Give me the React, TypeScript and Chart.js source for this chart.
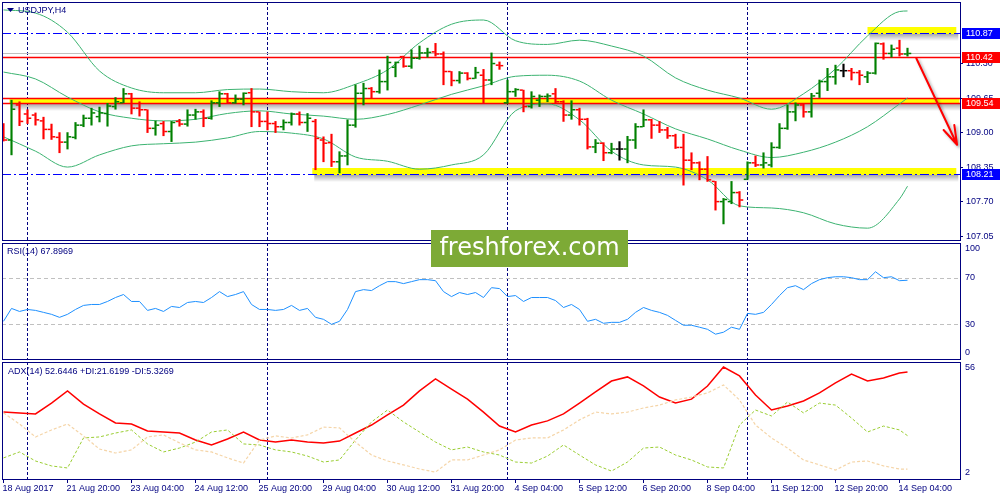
import React, { useEffect, useRef } from "react";
import { Chart, registerables } from "chart.js";

Chart.register(...registerables);

// ---------------- data ----------------
const barOpen = [109.13,108.85,109.51,109.34,109.32,109.21,109.05,108.90,108.81,108.90,
109.13,109.26,109.29,109.35,109.48,109.55,109.72,109.45,109.42,109.07,
109.16,109.01,109.20,109.15,109.32,109.38,109.26,109.55,109.72,109.55,
109.62,109.74,109.38,109.20,109.16,109.10,109.18,109.34,109.18,109.20,
108.85,108.80,108.44,108.55,109.13,109.73,109.82,109.76,109.95,110.22,
110.42,110.24,110.39,110.49,110.51,110.47,110.14,109.97,110.11,110.01,
110.07,109.98,110.26,109.55,109.76,109.79,109.48,109.60,109.67,109.72,
109.57,109.32,109.42,109.24,108.72,108.79,108.61,108.68,108.68,108.85,
109.10,109.23,109.13,109.04,108.93,108.71,108.47,108.42,108.30,108.07,
107.69,107.69,107.86,108.11,108.42,108.38,108.38,108.71,109.07,109.38,
109.51,109.38,109.73,109.95,110.04,110.155,110.155,110.12,110.04,110.11,
110.66,110.48,110.58,110.47];

const barHigh = [109.16,109.60,109.57,109.42,109.36,109.28,109.15,108.99,108.99,109.18,
109.32,109.45,109.47,109.54,109.65,109.82,109.73,109.57,109.42,109.21,
109.20,109.20,109.24,109.42,109.43,109.42,109.59,109.76,109.73,109.70,
109.74,109.82,109.38,109.38,109.20,109.23,109.36,109.38,109.35,109.24,
108.91,108.96,108.63,109.23,109.89,109.92,109.84,110.17,110.43,110.32,
110.43,110.55,110.62,110.58,110.67,110.51,110.14,110.14,110.12,110.22,
110.18,110.49,110.32,109.98,109.82,109.79,109.76,109.70,109.72,109.82,
109.59,109.59,109.45,109.26,108.86,108.80,108.79,108.82,108.92,109.16,
109.42,109.24,109.20,109.09,108.96,108.96,108.61,108.44,108.54,108.07,
107.75,108.07,107.88,108.44,108.55,108.61,108.80,109.16,109.51,109.55,
109.53,109.73,109.98,110.20,110.26,110.28,110.20,110.16,110.14,110.68,
110.68,110.64,110.73,110.58];

const barLow = [108.83,108.57,109.12,109.16,109.13,108.87,108.86,108.61,108.68,108.87,
109.10,109.13,109.19,109.11,109.43,109.55,109.34,109.30,108.99,108.94,
108.93,108.82,109.11,109.11,109.24,109.10,109.24,109.48,109.54,109.54,
109.51,109.10,109.10,109.04,108.99,109.04,109.13,109.13,109.01,108.29,
108.44,108.35,108.23,108.38,109.09,109.51,109.64,109.73,109.79,110.04,
110.22,110.20,110.37,110.41,110.43,109.89,109.87,109.92,109.98,110.01,
109.54,109.89,110.18,109.54,109.67,109.38,109.45,109.48,109.57,109.54,
109.20,109.24,109.13,108.68,108.61,108.46,108.59,108.47,108.42,108.69,
109.10,108.88,108.99,108.88,108.69,108.00,108.29,108.10,108.07,107.53,
107.27,107.65,107.59,108.11,108.35,108.32,108.34,108.69,109.05,109.21,
109.28,109.28,109.65,109.78,109.90,110.04,109.98,109.89,109.93,110.09,
110.37,110.41,110.43,110.43];

const barClose = [108.85,109.43,109.20,109.26,109.23,109.05,108.91,108.81,108.91,109.13,
109.26,109.36,109.36,109.49,109.57,109.72,109.45,109.42,109.07,109.13,
109.01,109.18,109.15,109.32,109.38,109.26,109.55,109.72,109.55,109.62,
109.73,109.38,109.20,109.16,109.10,109.18,109.34,109.18,109.26,108.88,
108.79,108.44,108.55,109.13,109.73,109.82,109.76,109.95,110.31,110.31,
110.24,110.39,110.49,110.50,110.47,110.14,109.97,110.11,110.01,110.12,
109.98,110.29,110.25,109.76,109.80,109.48,109.67,109.67,109.68,109.57,
109.32,109.42,109.24,108.72,108.79,108.61,108.68,108.68,108.85,109.10,
109.23,109.13,109.04,108.93,108.71,108.47,108.42,108.30,108.10,107.69,
107.73,107.86,107.72,108.42,108.38,108.42,108.71,109.07,109.38,109.51,
109.38,109.68,109.95,110.04,110.17,110.155,110.12,110.07,110.11,110.67,
110.48,110.56,110.47,110.48];

const timeTickBars = [0, 8, 16, 24, 32, 40, 48, 56, 64, 72, 80, 88, 96, 104, 112];
const timeTickLabels = ["18 Aug 2017", "21 Aug 20:00", "23 Aug 04:00", "24 Aug 12:00", "25 Aug 20:00",
  "29 Aug 04:00", "30 Aug 12:00", "31 Aug 20:00", "4 Sep 04:00", "5 Sep 12:00", "6 Sep 20:00",
  "8 Sep 04:00", "11 Sep 12:00", "12 Sep 20:00", "14 Sep 04:00"];
const weekStartBars = [3, 33, 63, 93];

const bbBars = [0,4,8,12,16,20,24,28,32,36,40,44,48,52,56,60,64,68,72,76,80,84,88,92,96,100,104,108,112,113];
const bbUpper = [111.30,111.24,110.88,110.15,109.83,109.74,109.74,109.80,109.81,109.76,109.74,109.90,110.17,110.68,111.03,111.11,110.72,110.65,110.73,110.62,110.43,110.02,109.79,109.64,109.43,109.72,110.19,110.81,111.27,111.28];
const bbMiddle = [110.13,110.00,109.66,109.38,109.26,109.21,109.24,109.35,109.40,109.34,109.30,109.24,109.33,109.51,109.71,109.87,110.05,110.07,109.96,109.60,109.34,109.06,108.87,108.66,108.52,108.62,108.81,109.10,109.53,109.64];
const bbLower = [108.91,108.64,108.34,108.57,108.74,108.78,108.81,108.89,109.01,108.98,108.87,108.53,108.45,108.30,108.38,108.57,109.40,109.53,109.23,108.64,108.38,108.34,108.10,107.61,107.57,107.48,107.27,107.19,107.74,107.98];

const rsiValues = [32.5,43.6,41.0,42.7,41.9,40.2,38.5,35.9,38.5,42.7,
46.2,47.0,47.0,49.6,53.0,55.6,49.6,49.6,41.9,43.6,
41.0,45.3,44.4,48.7,49.6,48.7,53.0,58.1,53.8,55.6,
58.1,47.0,42.7,42.7,41.9,42.7,46.2,41.9,43.6,35.9,
34.2,29.9,32.5,42.7,58.1,59.8,59.0,63.2,66.7,66.7,
65.0,66.7,68.4,68.4,67.5,58.1,53.8,57.3,55.6,57.3,
53.0,61.5,60.7,53.8,54.7,49.6,53.0,53.0,53.0,50.4,
44.4,47.0,42.7,32.5,34.2,30.8,31.6,31.6,34.2,40.2,
44.4,41.9,40.2,37.6,33.3,29.1,29.1,27.4,25.6,21.4,
23.1,27.4,25.6,39.3,38.5,40.2,47.0,54.7,61.5,63.2,
59.8,65.0,68.4,70.1,70.9,70.9,70.1,68.4,68.4,75.2,
70.1,70.9,67.5,67.8969];
const rsiLevels = [70, 30];
const rsiScaleLabels = [100, 70, 30, 0];

const dmiBars = [0,2,4,6,8,10,12,14,16,18,20,22,24,26,28,30,32,34,36,38,40,42,44,46,48,50,52,54,56,58,
  60,62,64,66,68,70,72,74,76,78,80,82,84,86,88,90,92,94,96,98,100,102,104,106,108,110,112,113];
const adxValues = [33.1,32.7,32.2,37.5,43.4,37.0,32.2,27.8,27.3,23.9,
  23.4,22.9,19.5,17.1,20.0,23.4,19.5,18.5,19.5,18.5,
  18.1,19.0,22.9,26.8,31.7,36.5,43.4,49.2,44.3,39.4,
  33.1,26.3,23.4,26.8,28.8,32.2,37.5,42.9,48.2,50.2,
  45.8,40.4,37.5,39.4,45.8,55.0,50.7,41.4,34.1,36.1,
  38.5,42.4,47.3,51.6,48.2,49.7,52.1,52.6446];
const plusDiValues = [10.8,13.7,9.3,6.9,5.9,20.5,21.0,22.9,24.4,17.6,
  13.7,15.6,18.5,23.4,24.4,17.6,17.1,14.7,13.7,11.7,
  8.8,9.8,19.5,28.3,34.1,28.3,23.4,18.5,14.7,16.1,
  13.7,12.2,8.8,8.3,11.7,17.1,12.2,7.4,4.4,8.8,
  15.6,16.1,12.2,9.8,6.4,5.9,26.8,34.1,31.2,38.0,
  32.7,37.5,36.5,30.2,23.4,26.3,24.4,21.6199];
const minusDiValues = [32.7,27.3,21.0,24.4,27.3,21.5,15.1,13.2,14.7,21.0,
  22.0,18.1,14.7,13.7,10.8,8.3,19.5,21.5,20.5,22.0,
  25.8,25.4,18.5,12.2,9.3,7.4,5.4,3.9,9.8,9.8,
  12.2,14.7,19.5,20.5,20.5,24.4,29.3,33.1,32.2,33.1,
  35.1,36.5,39.0,40.4,42.4,46.3,39.0,26.8,20.5,15.6,
  9.8,7.4,4.9,8.8,9.3,6.9,5.4,5.3269];
const adxScaleLabels = [56, 2];

const priceScaleLabels = [110.30, 109.65, 109.00, 108.35, 107.70, 107.05];
const redLevels = [110.42, 109.65, 109.54];
const blueLevels = [110.87, 108.21];
const markerValues = [110.87, 110.42, 109.54, 108.21];
// yellow zones: start bar, end bar, top price, bottom price
const zoneStartBars = [108.0, 0.75, 38.6];
const zoneEndBars = [119.1, 119.5, 119.1];
const zoneTops = [110.97, 109.65, 108.32];
const zoneBottoms = [110.87, 109.54, 108.21];
// arrow: bar index / price of start and tip
const arrowBars = [114.1, 119.2];
const arrowPrices = [110.39, 108.76];

// ---------------- styling ----------------
const NAVY = "#000080";
const FONT = '9px "Liberation Sans", Arial, sans-serif';
const X_MIN = -0.1875;
const X_MAX = 119.5625;
const PRICE_MIN = 106.967;
const PRICE_MAX = 111.449;
const ADX_MIN = 0.54;
const ADX_MAX = 57.46;
const markerColors = ["#0000FF", "#FF0000", "#FF0000", "#0000FF"];

function barColor(i: number) {
  if (barClose[i] > barOpen[i]) return "#008000";
  if (barClose[i] < barOpen[i]) return "#FF0000";
  return "#000000";
}

function clipArea(chart: any) {
  const { ctx, chartArea: a } = chart;
  ctx.beginPath();
  ctx.rect(a.left, a.top, a.right - a.left, a.bottom - a.top);
  ctx.clip();
}

function drawSeparators(chart: any) {
  const { ctx, chartArea: a, scales } = chart;
  ctx.save();
  ctx.strokeStyle = NAVY;
  ctx.lineWidth = 1;
  ctx.setLineDash([3, 2]);
  weekStartBars.forEach((b) => {
    const x = Math.floor(scales.x.getPixelForValue(b)) + 0.5;
    ctx.beginPath();
    ctx.moveTo(x, a.top);
    ctx.lineTo(x, a.bottom);
    ctx.stroke();
  });
  ctx.restore();
}

function drawFrame(chart: any) {
  const { ctx, chartArea: a } = chart;
  ctx.save();
  ctx.strokeStyle = NAVY;
  ctx.lineWidth = 1;
  ctx.setLineDash([]);
  ctx.strokeRect(Math.round(a.left) + 0.5, Math.round(a.top) + 0.5, Math.round(a.right - a.left), Math.round(a.bottom - a.top));
  ctx.restore();
}

function hLine(chart: any, yPix: number, color: string, dash: number[], width = 1) {
  const { ctx, chartArea: a } = chart;
  ctx.save();
  ctx.strokeStyle = color;
  ctx.lineWidth = width;
  ctx.setLineDash(dash);
  const y = Math.round(yPix) + 0.5;
  ctx.beginPath();
  ctx.moveTo(a.left, y);
  ctx.lineTo(a.right, y);
  ctx.stroke();
  ctx.restore();
}

function clampY(y: number, a: any) {
  return Math.min(Math.max(y, a.top + 6), a.bottom - 6);
}

const mainPlugin = {
  id: "mainPane",
  beforeDatasetsDraw(chart: any) {
    const { ctx, scales } = chart;
    const x = scales.x, y = scales.y;
    ctx.save();
    clipArea(chart);
    drawSeparators(chart);
    zoneStartBars.forEach((sb, k) => {
      const x1 = x.getPixelForValue(sb);
      const x2 = x.getPixelForValue(zoneEndBars[k]);
      const y1 = Math.round(y.getPixelForValue(zoneTops[k]));
      const y2 = Math.round(y.getPixelForValue(zoneBottoms[k]));
      const g = ctx.createLinearGradient(0, y2, 0, y2 + 8);
      g.addColorStop(0, "rgba(0,0,0,0.38)");
      g.addColorStop(1, "rgba(0,0,0,0)");
      ctx.fillStyle = g;
      ctx.fillRect(x1 + 2, y2, x2 - x1, 8);
      ctx.fillStyle = "#FFFF00";
      ctx.fillRect(x1, y1, x2 - x1, y2 - y1 + 1);
    });
    hLine(chart, y.getPixelForValue(barClose[barClose.length - 1]), "#C0C0C0", []);
    redLevels.forEach((v) => hLine(chart, y.getPixelForValue(v), "#FF0000", [], 1.3));
    blueLevels.forEach((v) => hLine(chart, y.getPixelForValue(v), "#0000FF", [9, 3, 2, 3]));
    ctx.restore();
  },
  afterDatasetsDraw(chart: any) {
    const { ctx, scales } = chart;
    const x = scales.x, y = scales.y;
    ctx.save();
    clipArea(chart);
    barOpen.forEach((o, i) => {
      const cx = x.getPixelForValue(i);
      ctx.fillStyle = barColor(i);
      const yo = y.getPixelForValue(o);
      const yc = y.getPixelForValue(barClose[i]);
      ctx.fillRect(cx - 3.75, yo - 0.75, 3, 1.5);
      ctx.fillRect(cx + 0.75, yc - 0.75, 3, 1.5);
    });
    // arrow
    const ax1 = x.getPixelForValue(arrowBars[0]);
    const ay1 = y.getPixelForValue(arrowPrices[0]);
    const ax2 = x.getPixelForValue(arrowBars[1]);
    const ay2 = y.getPixelForValue(arrowPrices[1]);
    const ang = Math.atan2(ay1 - ay2, ax1 - ax2);
    ctx.shadowColor = "rgba(0,0,0,0.35)";
    ctx.shadowBlur = 3;
    ctx.shadowOffsetX = 2;
    ctx.shadowOffsetY = 2;
    ctx.strokeStyle = "#FF0000";
    ctx.lineWidth = 2;
    ctx.lineCap = "round";
    ctx.beginPath();
    ctx.moveTo(ax1, ay1);
    ctx.lineTo(ax2, ay2);
    [-0.3, 0.3].forEach((d) => {
      ctx.moveTo(ax2, ay2);
      ctx.lineTo(ax2 + 20 * Math.cos(ang + d), ay2 + 20 * Math.sin(ang + d));
    });
    ctx.stroke();
    ctx.restore();
  },
  afterDraw(chart: any) {
    const { ctx, chartArea: a, scales } = chart;
    const y = scales.y;
    drawFrame(chart);
    ctx.save();
    ctx.font = FONT;
    ctx.textBaseline = "middle";
    ctx.textAlign = "left";
    // title
    ctx.fillStyle = NAVY;
    ctx.beginPath();
    ctx.moveTo(7, 8);
    ctx.lineTo(14, 8);
    ctx.lineTo(10.5, 12);
    ctx.closePath();
    ctx.fill();
    ctx.fillText("USDJPY,H4", 18, 10.5);
    // price scale
    priceScaleLabels.forEach((v) => {
      const py = Math.round(y.getPixelForValue(v)) + 0.5;
      ctx.strokeStyle = NAVY;
      ctx.lineWidth = 1;
      ctx.beginPath();
      ctx.moveTo(a.right, py);
      ctx.lineTo(a.right + 3, py);
      ctx.stroke();
      ctx.fillStyle = NAVY;
      ctx.fillText(v.toFixed(2), a.right + 6, py);
    });
    markerValues.forEach((v, k) => {
      const py = Math.round(y.getPixelForValue(v));
      ctx.fillStyle = markerColors[k];
      ctx.fillRect(a.right + 2, py - 5, 40, 11);
      ctx.fillStyle = "#FFFFFF";
      ctx.fillText(v.toFixed(2), a.right + 6, py + 0.5);
    });
    // watermark
    ctx.fillStyle = "#7DAA36";
    ctx.fillRect(431, 230, 197, 37);
    ctx.fillStyle = "#FFFFFF";
    ctx.font = '24px "DejaVu Sans", sans-serif';
    ctx.textAlign = "center";
    ctx.fillText("freshforex.com", 529.5, 248.5);
    ctx.restore();
  },
};

const rsiPlugin = {
  id: "rsiPane",
  beforeDatasetsDraw(chart: any) {
    const { ctx, scales } = chart;
    ctx.save();
    clipArea(chart);
    drawSeparators(chart);
    rsiLevels.forEach((v) => hLine(chart, scales.y.getPixelForValue(v), "#C0C0C0", [4, 3]));
    ctx.restore();
  },
  afterDraw(chart: any) {
    const { ctx, chartArea: a, scales } = chart;
    drawFrame(chart);
    ctx.save();
    ctx.font = FONT;
    ctx.textBaseline = "middle";
    ctx.textAlign = "left";
    ctx.fillStyle = NAVY;
    ctx.fillText("RSI(14) " + rsiValues[rsiValues.length - 1].toFixed(4), 7, a.top + 9);
    rsiScaleLabels.forEach((v) => {
      ctx.fillText(String(v), a.right + 5, clampY(scales.y.getPixelForValue(v), a));
    });
    ctx.restore();
  },
};

const adxPlugin = {
  id: "adxPane",
  beforeDatasetsDraw(chart: any) {
    const { ctx } = chart;
    ctx.save();
    clipArea(chart);
    drawSeparators(chart);
    ctx.restore();
  },
  afterDraw(chart: any) {
    const { ctx, chartArea: a, scales } = chart;
    drawFrame(chart);
    ctx.save();
    ctx.font = FONT;
    ctx.textBaseline = "middle";
    ctx.textAlign = "left";
    ctx.fillStyle = NAVY;
    const last = dmiBars.length - 1;
    ctx.fillText(
      "ADX(14) " + adxValues[last].toFixed(4) + " +DI:" + plusDiValues[last].toFixed(4) + " -DI:" + minusDiValues[last].toFixed(4),
      8, a.top + 10
    );
    adxScaleLabels.forEach((v) => {
      ctx.fillText(String(v), a.right + 5, clampY(scales.y.getPixelForValue(v), a));
    });
    // time axis
    ctx.strokeStyle = NAVY;
    ctx.lineWidth = 1;
    timeTickBars.forEach((b, k) => {
      const tx = Math.floor(scales.x.getPixelForValue(b)) + 0.5;
      ctx.beginPath();
      ctx.moveTo(tx, a.bottom);
      ctx.lineTo(tx, a.bottom + 4);
      ctx.stroke();
      ctx.fillText(timeTickLabels[k], tx - 1, a.bottom + 9.5);
    });
    ctx.restore();
  },
};

const xScale = { type: "linear", display: false, min: X_MIN, max: X_MAX, offset: false };
const baseOptions = (padding: any, yMin: number, yMax: number) => ({
  responsive: false,
  animation: false,
  devicePixelRatio: 1,
  events: [],
  layout: { padding },
  scales: {
    x: xScale,
    y: { type: "linear", display: false, min: yMin, max: yMax },
  },
  plugins: { legend: { display: false }, tooltip: { enabled: false }, title: { display: false } },
});

const pts = (idx: number[], vals: number[]) => idx.map((x, k) => ({ x, y: vals[k] }));

export default function App() {
  const mainRef = useRef<HTMLCanvasElement>(null);
  const rsiRef = useRef<HTMLCanvasElement>(null);
  const adxRef = useRef<HTMLCanvasElement>(null);

  useEffect(() => {
    const bbStyle = {
      type: "line",
      borderColor: "#3CB371",
      borderWidth: 1,
      pointRadius: 0,
      cubicInterpolationMode: "monotone",
      order: 2,
    };
    const main = new Chart(mainRef.current as HTMLCanvasElement, {
      type: "line",
      data: {
        datasets: [
          { ...bbStyle, label: "Bands upper", data: pts(bbBars, bbUpper) },
          { ...bbStyle, label: "Bands middle", data: pts(bbBars, bbMiddle) },
          { ...bbStyle, label: "Bands lower", data: pts(bbBars, bbLower) },
          {
            type: "bar",
            label: "USDJPY H4",
            data: barHigh.map((h, i) => ({ x: i, y: [barLow[i], h] })),
            backgroundColor: barOpen.map((_, i) => barColor(i)),
            borderWidth: 0,
            barThickness: 1.5,
            order: 1,
          },
        ],
      } as any,
      options: baseOptions({ left: 2, right: 40, top: 2, bottom: 28 }, PRICE_MIN, PRICE_MAX) as any,
      plugins: [mainPlugin],
    });

    const rsi = new Chart(rsiRef.current as HTMLCanvasElement, {
      type: "line",
      data: {
        datasets: [
          {
            label: "RSI(14)",
            data: rsiValues.map((v, i) => ({ x: i, y: v })),
            borderColor: "#1E90FF",
            borderWidth: 1,
            pointRadius: 0,
            tension: 0,
          },
        ],
      } as any,
      options: baseOptions({ left: 2, right: 40, top: 2, bottom: 2 }, 0, 100) as any,
      plugins: [rsiPlugin],
    });

    const adx = new Chart(adxRef.current as HTMLCanvasElement, {
      type: "line",
      data: {
        datasets: [
          { label: "-DI", data: pts(dmiBars, minusDiValues), borderColor: "#F5D5A8", borderWidth: 1.2, borderDash: [3, 2], pointRadius: 0 },
          { label: "+DI", data: pts(dmiBars, plusDiValues), borderColor: "#9ACD32", borderWidth: 1, borderDash: [3, 2], pointRadius: 0 },
          { label: "ADX", data: pts(dmiBars, adxValues), borderColor: "#FF0000", borderWidth: 1.5, pointRadius: 0 },
        ],
      } as any,
      options: baseOptions({ left: 2, right: 40, top: 2, bottom: 21 }, ADX_MIN, ADX_MAX) as any,
      plugins: [adxPlugin],
    });

    return () => {
      main.destroy();
      rsi.destroy();
      adx.destroy();
    };
  }, []);

  return (
    <div style={{ position: "fixed", left: 0, top: 0, width: 1000, height: 500, background: "#FFFFFF", overflow: "hidden" }}>
      <canvas ref={rsiRef} width={1000} height={120} style={{ position: "absolute", left: 0, top: 241, width: 1000, height: 120, zIndex: 1 }} />
      <canvas ref={adxRef} width={1000} height={140} style={{ position: "absolute", left: 0, top: 360, width: 1000, height: 140, zIndex: 1 }} />
      <canvas ref={mainRef} width={1000} height={268} style={{ position: "absolute", left: 0, top: 0, width: 1000, height: 268, zIndex: 2 }} />
    </div>
  );
}
